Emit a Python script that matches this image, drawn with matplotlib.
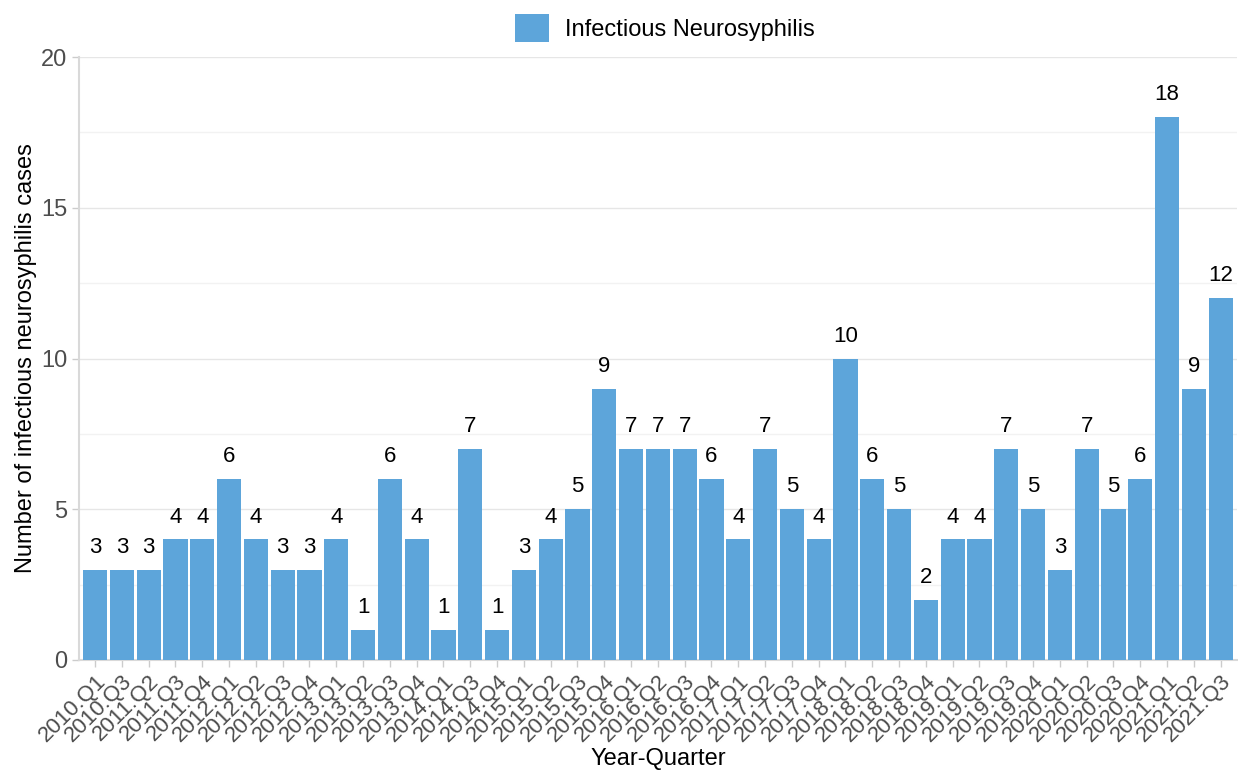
import matplotlib
matplotlib.use("Agg")
import matplotlib.pyplot as plt
from matplotlib.patches import Patch
from matplotlib.ticker import MultipleLocator

plt.rcParams['font.family'] = ['Liberation Sans', 'DejaVu Sans']

quarters = ["2010.Q1", "2010.Q3", "2011.Q2", "2011.Q3", "2011.Q4", "2012.Q1", "2012.Q2",
            "2012.Q3", "2012.Q4", "2013.Q1", "2013.Q2", "2013.Q3", "2013.Q4", "2014.Q1",
            "2014.Q3", "2014.Q4", "2015.Q1", "2015.Q2", "2015.Q3", "2015.Q4", "2016.Q1",
            "2016.Q2", "2016.Q3", "2016.Q4", "2017.Q1", "2017.Q2", "2017.Q3", "2017.Q4",
            "2018.Q1", "2018.Q2", "2018.Q3", "2018.Q4", "2019.Q1", "2019.Q2", "2019.Q3",
            "2019.Q4", "2020.Q1", "2020.Q2", "2020.Q3", "2020.Q4", "2021.Q1", "2021.Q2",
            "2021.Q3"]
cases = [3, 3, 3, 4, 4, 6, 4, 3, 3, 4, 1, 6, 4, 1, 7, 1, 3, 4, 5, 9, 7, 7, 7, 6, 4, 7, 5, 4,
         10, 6, 5, 2, 4, 4, 7, 5, 3, 7, 5, 6, 18, 9, 12]
series_name = "Infectious Neurosyphilis"
bar_color = "#5DA5DA"

fig = plt.figure(figsize=(12.38, 7.75), dpi=100)
ax = fig.add_axes([79/1238, 1 - 660/775, 1 - 79/1238 - 0.001, (660 - 57)/775])

x = list(range(len(quarters)))
bars = ax.bar(x, cases, width=0.9, color=bar_color, zorder=3)
for xi, v in zip(x, cases):
    ax.annotate(str(v), (xi, v), xytext=(0, 8.5), textcoords='offset points',
                ha='center', va='bottom', fontsize=16, color='black')

ax.set_xlim(-0.6, len(quarters) - 0.4)
ax.set_ylim(0, 20)
ax.set_xticks(x)
ax.set_xticklabels(quarters, rotation=45, ha='right', rotation_mode='anchor',
                   fontsize=16, color='#4D4D4D')
ax.yaxis.set_major_locator(MultipleLocator(5))
ax.yaxis.set_minor_locator(MultipleLocator(2.5))
ax.tick_params(axis='y', which='major', labelsize=17, labelcolor='#4D4D4D',
               color='#CCCCCC', length=5, width=1)
ax.tick_params(axis='y', which='minor', length=0)
ax.tick_params(axis='x', color='#CCCCCC', length=5, width=1, pad=3)

ax.grid(axis='y', which='major', color='#E6E6E6', linewidth=1, zorder=0)
ax.grid(axis='y', which='minor', color='#F2F2F2', linewidth=1, zorder=0)
ax.grid(axis='x', visible=False)

for s in ['top', 'right']:
    ax.spines[s].set_visible(False)
for s in ['left', 'bottom']:
    ax.spines[s].set_color('#D9D9D9')
    ax.spines[s].set_linewidth(1.5)

ax.set_xlabel("Year-Quarter", fontsize=17, color='black', labelpad=1)
ax.set_ylabel("Number of infectious neurosyphilis cases", fontsize=17, color='black', labelpad=3)

handle = Patch(facecolor=bar_color, edgecolor='none', label=series_name)
fig.legend(handles=[handle], loc='upper center', bbox_to_anchor=(0.537, 1.0),
           frameon=False, fontsize=17, handlelength=1.45, handleheight=1.45,
           handletextpad=0.65, borderaxespad=0.2)

fig.savefig("out.png", dpi=100)
